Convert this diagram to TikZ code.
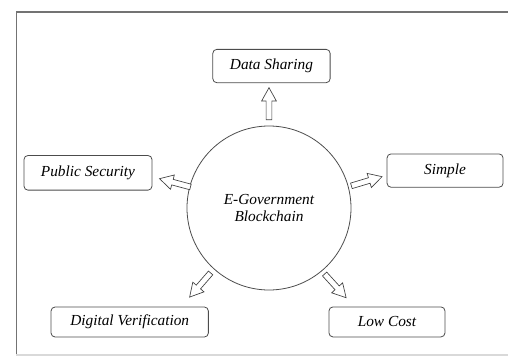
\documentclass[tikz,border=0pt]{standalone}
\usepackage{fontspec}
\setmainfont{Liberation Serif}[ItalicFont={Liberation Serif Italic}]
\usetikzlibrary{shapes.arrows}
\tikzset{
  item/.style={draw=black!70, line width=0.6pt, rounded corners=3pt,
    minimum height=25pt, inner sep=2pt,
    font=\fontsize{11.5}{14}\selectfont\itshape},
  hubnode/.style={circle, draw=black!70, line width=0.6pt, minimum size=123pt,
    inner sep=0pt, align=center, font=\fontsize{11.5}{13}\selectfont\itshape},
  flow/.style={single arrow, draw=black!75, line width=0.5pt, fill=white,
    inner xsep=0pt, inner ysep=1.9pt, minimum width=10.5pt, minimum height=24pt,
    single arrow head extend=3.4pt, single arrow tip angle=58,
    sloped, allow upside down, anchor=tip, pos=1},
}
\begin{document}
\begin{tikzpicture}[x=0.75pt, y=0.75pt]
      \useasboundingbox (-269,-150) rectangle (239,208);
      % frame
      \draw[black!55, line width=1.1pt] (-252.5,-147) -- (-252.5,196) -- (239,196);
      \draw[black!15, line width=0.8pt] (-252.5,-147) -- (239,-147);
      \draw
        (0,0) node[hubnode] (hub) {E-Government\\Blockchain}
        (89:142) node[item, minimum width=88pt] (share) {Data Sharing}
        (169:184.4) node[item, minimum width=96pt, minimum height=26pt] (security) {Public Security}
        (12:180) node[item, minimum width=87pt] (simple) {Simple}
        (219.3:180) node[item, minimum width=118pt, minimum height=22.5pt] (verify) {Digital Verification}
        (316:164) node[item, minimum width=87pt, minimum height=22.5pt] (cost) {Low Cost};
      \coordinate (share-tip) at (90:121);
      \coordinate (security-tip) at (165:114);
      \coordinate (simple-tip) at (15.5:118);
      \coordinate (verify-tip) at (228.3:120);
      \coordinate (cost-tip) at (310.7:119);
      \path (hub.90) -- (share-tip) node[flow] {};
      \path (hub.165) -- (security-tip) node[flow] {};
      \path (hub.15.5) -- (simple-tip) node[flow] {};
      \path (hub.228.3) -- (verify-tip) node[flow] {};
      \path (hub.310.7) -- (cost-tip) node[flow] {};
    \end{tikzpicture}
\end{document}
